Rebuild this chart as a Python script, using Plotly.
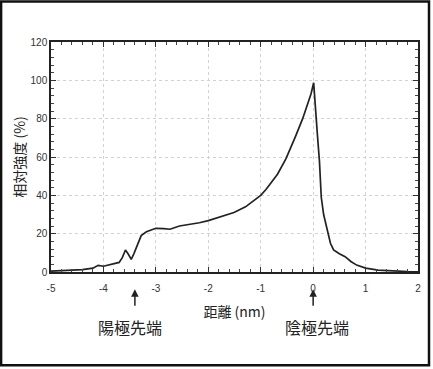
import plotly.graph_objects as go

distance_nm = [-5.0, -4.8, -4.6, -4.4, -4.2, -4.1, -4.0, -3.9, -3.8, -3.7, -3.64, -3.58, -3.53, -3.47,
               -3.42, -3.37, -3.28, -3.18, -3.0, -2.85, -2.73, -2.55, -2.35, -2.17, -2.0, -1.85, -1.67,
               -1.51, -1.29, -1.0, -0.9, -0.8, -0.68, -0.52, -0.42, -0.34, -0.2, -0.1, -0.04, 0.01,
               0.05, 0.08, 0.12, 0.155, 0.2, 0.28, 0.33, 0.39, 0.5, 0.61, 0.72, 0.83, 1.0, 1.24, 1.5,
               1.8, 2.0]
intensity_pct = [0.5, 0.7, 1.0, 1.2, 2.0, 3.5, 3.0, 3.6, 4.2, 5.0, 7.5, 11.5, 9.5, 6.6,
                 9.5, 13, 19, 21, 22.8, 22.6, 22.3, 24, 24.8, 25.7, 26.8, 28, 29.7,
                 31, 34, 40, 43, 46.5, 51, 59, 65, 70.5, 80, 88, 93, 98.7,
                 86, 72, 58, 39, 30, 20, 15, 11.5, 9.5, 8, 5.5, 3.6, 2, 1, 0.5,
                 0.2, 0.1]

x_ticks = [-5, -4, -3, -2, -1, 0, 1, 2]
y_ticks = [0, 20, 40, 60, 80, 100, 120]
anode_x = -3.4
cathode_x = 0.0

fig = go.Figure()
fig.add_trace(go.Scatter(x=distance_nm, y=intensity_pct, mode="lines",
                         line=dict(color="#222222", width=1.7), showlegend=False))

cjk = "Noto Sans CJK JP"
axis_common = dict(showline=True, linecolor="#222222", linewidth=1.5, mirror="ticks",
                   ticks="inside", ticklen=5, tickcolor="#333333",
                   showgrid=True, gridcolor="#d2d2d2", griddash="dot", gridwidth=1,
                   zeroline=False, tickfont=dict(family="Liberation Sans", size=10, color="#333333"))

fig.update_xaxes(range=[-5, 2], tickvals=x_ticks, ticktext=[str(v) for v in x_ticks],
                 minor=dict(ticks="inside", ticklen=3, dtick=0.2, tickcolor="#444444", showgrid=False),
                 title=dict(text="距離 (nm)", font=dict(family=cjk, size=14, color="#222222"), standoff=14),
                 **axis_common)
fig.update_yaxes(range=[0, 120], tickvals=y_ticks, ticktext=[str(v) for v in y_ticks],
                 minor=dict(ticks="inside", ticklen=3, dtick=4, tickcolor="#444444", showgrid=False),
                 title=dict(text="相対強度 (%)", font=dict(family=cjk, size=14, color="#222222"), standoff=2),
                 **axis_common)
fig.update_xaxes(ticklabelstandoff=6)

annotations = []
for xv, label, xshift in [(anode_x, "陽極先端", -5), (cathode_x, "陰極先端", 4)]:
    annotations.append(dict(x=xv, y=-0.075, xref="x", yref="paper", text="", showarrow=True,
                            ax=0, ay=18, arrowhead=2, arrowsize=1, arrowwidth=1.5, arrowcolor="#222222"))
    annotations.append(dict(x=xv, y=-0.24, xref="x", yref="paper", text=label, showarrow=False,
                            xanchor="center", yanchor="middle",
                            xshift=xshift, font=dict(family=cjk, size=16, color="#222222")))
fig.update_layout(annotations=annotations)

fig.add_shape(type="rect", xref="paper", yref="paper", x0=-0.136, x1=1.03, y0=-0.405, y1=1.176,
              line=dict(color="#111111", width=2.5), fillcolor="rgba(0,0,0,0)")

fig.update_layout(width=433, height=369, margin=dict(l=51, r=13, t=42, b=97),
                  paper_bgcolor="white", plot_bgcolor="white")

fig.write_html("out.html", config={"displayModeBar": False},
               post_script="document.body.style.margin='0';document.body.style.overflow='hidden';")
